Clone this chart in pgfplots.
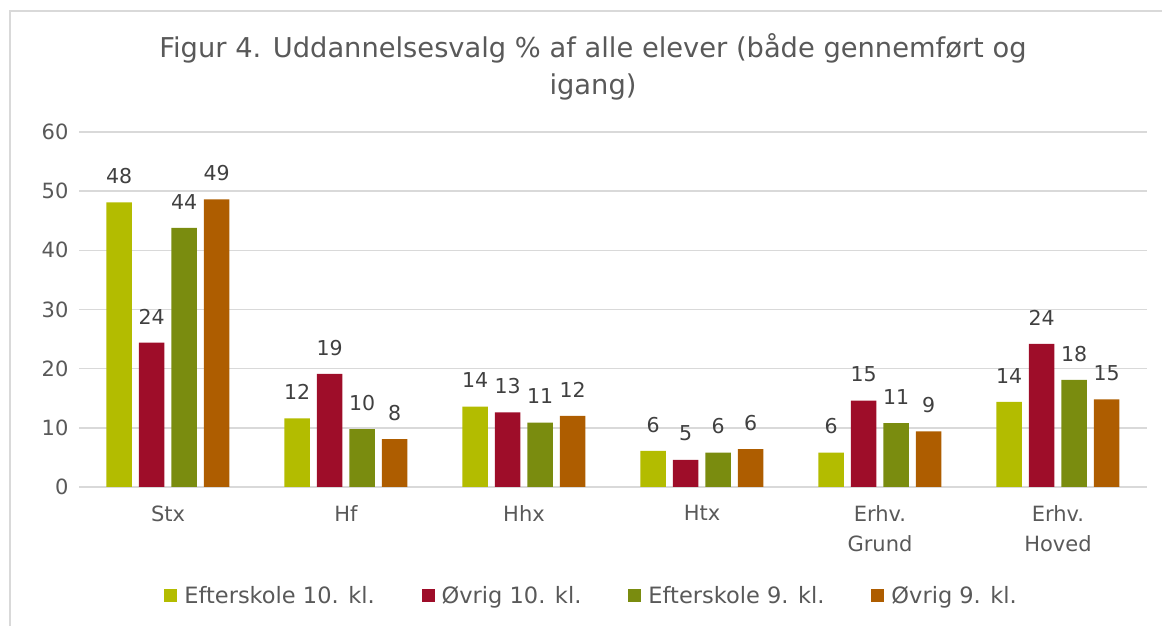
\documentclass[border=0pt]{standalone}
\usepackage{pgfplots}
\pgfplotsset{compat=1.18}
\usepackage{fontspec}
\setmainfont{DejaVu Sans}
\definecolor{cA}{HTML}{B3BC00}
\definecolor{cB}{HTML}{9E0D29}
\definecolor{cC}{HTML}{7A8C0F}
\definecolor{cD}{HTML}{AE5D00}
\definecolor{txt}{HTML}{595959}
\definecolor{lbl}{HTML}{404040}
\definecolor{gridc}{HTML}{D9D9D9}
\begin{document}
\begin{tikzpicture}
\useasboundingbox (0pt,0pt) rectangle (1162pt,626pt);
\draw[gridc, line width=2pt] (10pt,0pt) -- (10pt,615pt) -- (1162pt,615pt);
\node[text=txt, font=\fontsize{27.3}{37}\selectfont, align=center] at (593pt,559pt) {Figur 4. Uddannelsesvalg \% af alle elever (både gennemført og\\igang)};
\begin{axis}[at={(79pt,139pt)}, anchor=south west, scale only axis,
  width=1068pt, height=355pt,
  ymin=0, ymax=60, ytick={0,10,...,60},
  xmin=-0.5, xmax=5.5, xtick=data,
  xticklabels={Stx,Hf,Hhx,Htx,{Erhv.\\Grund},{Erhv.\\Hoved}},
  ybar=7pt, bar width=25.5pt,
  axis line style={draw=none},
  major tick length=0pt,
  ymajorgrids, grid style={gridc, line width=1.5pt},
  /pgf/number format/assume math mode=true,
  tick label style={text=txt, font=\fontsize{21}{30}\selectfont},
  xticklabel style={align=center, yshift=-15pt},
  yticklabel style={xshift=-7pt},
  nodes near coords={\pgfmathprintnumber[fixed,precision=0,assume math mode=true]{\pgfplotspointmeta}},
  nodes near coords style={text=lbl, font=\fontsize{20.5}{24}\selectfont, yshift=15pt},
  legend style={at={(0.48,-0.307)}, anchor=center, draw=none, fill=none,
    legend columns=4, font=\fontsize{22.5}{26}\selectfont, text=txt,
    /tikz/every even column/.append style={column sep=45pt}},
  legend image code/.code={\fill[#1] (0pt,-6.5pt) rectangle (13pt,6.5pt); \path (18pt,0pt);},
  clip=false,
]
\addplot[fill=cA, draw=none] coordinates {(0,48.1) (1,11.6) (2,13.6) (3,6.1) (4,5.8) (5,14.4)};
\addplot[fill=cB, draw=none] coordinates {(0,24.4) (1,19.1) (2,12.6) (3,4.6) (4,14.6) (5,24.2)};
\addplot[fill=cC, draw=none] coordinates {(0,43.8) (1,9.8) (2,10.9) (3,5.8) (4,10.8) (5,18.1)};
\addplot[fill=cD, draw=none] coordinates {(0,48.6) (1,8.1) (2,12.0) (3,6.4) (4,9.4) (5,14.8)};
\legend{Efterskole 10. kl., Øvrig 10. kl., Efterskole 9. kl., Øvrig 9. kl.}
\end{axis}
\end{tikzpicture}
\end{document}
